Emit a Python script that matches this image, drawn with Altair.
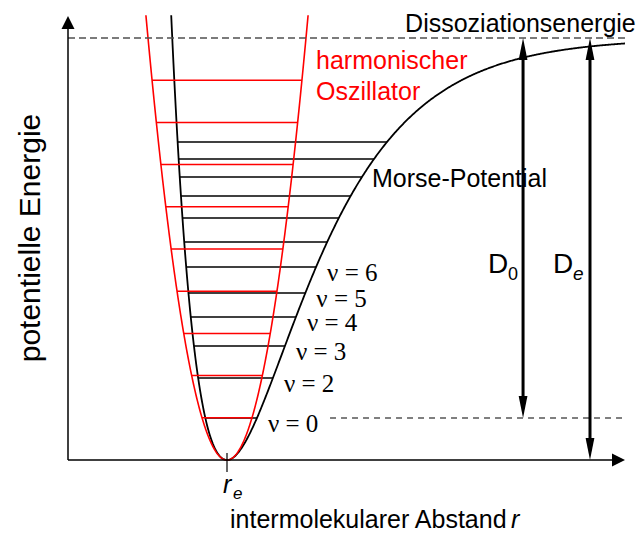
import altair as alt
import numpy as np
import pandas as pd

# ---- Morse potential in reduced units (energy in D_e, distance in r_e) ----
DE = 1.0          # dissociation energy D_e
RE = 1.0          # equilibrium distance r_e
A = 2.013         # Morse range parameter
K = DE * A ** 2   # force constant of the harmonic approximation
E_TOP = 1.054     # energy at which both wells are cut off
R_END = 3.503     # end of the r axis
E_AXIS_TOP = 1.052

# vibrational levels of the Morse oscillator (units of D_e)
morse_levels = [0.0995, 0.1943, 0.2701, 0.3389, 0.3957, 0.4573,
                0.5166, 0.5735, 0.6256, 0.6706, 0.7133, 0.7536]
# levels of the harmonic oscillator
harmonic_levels = [0.10, 0.20, 0.30, 0.40, 0.50, 0.60, 0.70, 0.80, 0.90]
# quantum-number labels for the lowest Morse levels
level_labels = ["ν = 0", "ν = 2", "ν = 3", "ν = 4", "ν = 5", "ν = 6"]

E0 = morse_levels[0]          # zero-point level
R_D0 = 2.862                  # position of the D0 arrow
R_DE = 3.283                  # position of the De arrow

# ---- canvas / scales ----
W, H = 637, 537
PX_R = 159.0      # pixels per unit of r
PX_E = 422.0      # pixels per unit of energy
X0, Y0 = 68.0, 460.0  # pixel position of the origin

xs = alt.Scale(domain=[-X0 / PX_R, (W - X0) / PX_R], nice=False, zero=False)
ys = alt.Scale(domain=[-(H - Y0) / PX_E, Y0 / PX_E], nice=False, zero=False)

SANS = "Liberation Sans"
SERIF = "Liberation Serif"


def X(f="r"):
    return alt.X(f"{f}:Q", scale=xs, axis=None)


def Y(f="E"):
    return alt.Y(f"{f}:Q", scale=ys, axis=None)


def morse(r):
    return DE * (1 - np.exp(-A * (r - RE))) ** 2


def morse_left(e):
    return RE - np.log(1 + np.sqrt(e / DE)) / A


def morse_right(e):
    return RE - np.log(1 - np.sqrt(e / DE)) / A


# ---- curves ----
r_m = np.linspace(morse_left(E_TOP), R_END, 600)
morse_df = pd.DataFrame({"r": r_m, "E": morse(r_m)})

half = np.sqrt(E_TOP / K)
r_h = np.linspace(RE - half, RE + half, 300)
harm_df = pd.DataFrame({"r": r_h, "E": K * (r_h - RE) ** 2})

morse_lv = pd.DataFrame({"E": morse_levels})
morse_lv["r1"] = morse_left(morse_lv["E"])
morse_lv["r2"] = morse_right(morse_lv["E"])

harm_lv = pd.DataFrame({"E": harmonic_levels})
harm_lv["r1"] = RE - np.sqrt(harm_lv["E"] / K)
harm_lv["r2"] = RE + np.sqrt(harm_lv["E"] / K)

lab_df = pd.DataFrame({"label": level_labels,
                       "E": morse_levels[:len(level_labels)]})
lab_df["r"] = morse_right(lab_df["E"])

layers = []

# Morse level lines and curve
layers.append(alt.Chart(morse_lv).mark_rule(color="black", strokeWidth=1.5)
              .encode(x=X("r1"), x2="r2", y=Y()))
layers.append(alt.Chart(morse_df).mark_line(color="black", strokeWidth=1.8)
              .encode(x=X(), y=Y()))
# harmonic oscillator levels and parabola
layers.append(alt.Chart(harm_lv).mark_rule(color="#ff0000", strokeWidth=1.5)
              .encode(x=X("r1"), x2="r2", y=Y()))
layers.append(alt.Chart(harm_df).mark_line(color="#ff0000", strokeWidth=1.6)
              .encode(x=X(), y=Y()))

# dashed reference lines: dissociation limit and zero-point level
layers.append(alt.Chart(pd.DataFrame({"r1": [0.0], "r2": [R_END], "E": [DE]}))
              .mark_rule(color="#505050", strokeWidth=1.3, strokeDash=[7, 4])
              .encode(x=X("r1"), x2="r2", y=Y()))
layers.append(alt.Chart(pd.DataFrame({"r1": [1.648], "r2": [R_END], "E": [E0]}))
              .mark_rule(color="black", strokeWidth=1.2, strokeDash=[6, 5])
              .encode(x=X("r1"), x2="r2", y=Y()))

# axes
AX_HEAD = 13.0
axes_df = pd.DataFrame({
    "r1": [0.0, 0.0], "r2": [R_END - AX_HEAD / PX_R * 0.9, 0.0],
    "E1": [0.0, 0.0], "E2": [0.0, E_AXIS_TOP - AX_HEAD / PX_E * 0.9]})
layers.append(alt.Chart(axes_df).mark_rule(color="black", strokeWidth=1.5)
              .encode(x=X("r1"), x2="r2", y=Y("E1"), y2="E2"))
# tick at r_e
tick_df = pd.DataFrame({"r": [RE], "E1": [7 / PX_E], "E2": [-12 / PX_E]})
layers.append(alt.Chart(tick_df).mark_rule(color="black", strokeWidth=1.2)
              .encode(x=X(), y=Y("E1"), y2="E2"))

# axis arrowheads (tip at the data point)
head_up = "M0,0L0.5,1L-0.5,1Z"
head_right = "M0,0L-1,0.5L-1,-0.5Z"
layers.append(alt.Chart(pd.DataFrame({"r": [0.0], "E": [E_AXIS_TOP]}))
              .mark_point(shape=head_up, size=(2 * AX_HEAD) ** 2, filled=True,
                          color="black", opacity=1, strokeWidth=0)
              .encode(x=X(), y=Y()))
layers.append(alt.Chart(pd.DataFrame({"r": [R_END], "E": [0.0]}))
              .mark_point(shape=head_right, size=(2 * AX_HEAD) ** 2, filled=True,
                          color="black", opacity=1, strokeWidth=0)
              .encode(x=X(), y=Y()))

# D0 and De double arrows
HEAD = 22.0
shaft_df = pd.DataFrame({
    "r": [R_D0, R_DE],
    "E1": [E0 + HEAD / PX_E * 0.8, 0.0 + HEAD / PX_E * 0.8],
    "E2": [DE - HEAD / PX_E * 0.8, DE - HEAD / PX_E * 0.8]})
layers.append(alt.Chart(shaft_df).mark_rule(color="black", strokeWidth=3)
              .encode(x=X(), y=Y("E1"), y2="E2"))
arrow_up = "M0,0L0.2,1L-0.2,1Z"
arrow_down = "M0,0L0.2,-1L-0.2,-1Z"
layers.append(alt.Chart(pd.DataFrame({"r": [R_D0, R_DE], "E": [DE, DE]}))
              .mark_point(shape=arrow_up, size=(2 * HEAD) ** 2, filled=True,
                          color="black", opacity=1, strokeWidth=0)
              .encode(x=X(), y=Y()))
layers.append(alt.Chart(pd.DataFrame({"r": [R_D0, R_DE], "E": [E0, 0.0]}))
              .mark_point(shape=arrow_down, size=(2 * HEAD) ** 2, filled=True,
                          color="black", opacity=1, strokeWidth=0)
              .encode(x=X(), y=Y()))


def text(t, r, e, **kw):
    kw.setdefault("font", SANS)
    kw.setdefault("fontSize", 25)
    kw.setdefault("align", "left")
    kw.setdefault("baseline", "alphabetic")
    kw.setdefault("color", "black")
    return (alt.Chart(pd.DataFrame({"r": [r], "E": [e]}))
            .mark_text(text=t, **kw).encode(x=X(), y=Y()))


# level labels
layers.append(alt.Chart(lab_df).mark_text(
    font=SERIF, fontSize=25, align="left", baseline="alphabetic",
    dx=11, dy=14, color="black")
    .encode(x=X(), y=Y(), text="label:N"))

# annotations
layers.append(text("Dissoziationsenergie", 2.12, DE, dy=-6))
layers.append(text("harmonischer", 1.56, 0.9265, color="#ff0000"))
layers.append(text("Oszillator", 1.56, 0.8531, color="#ff0000"))
layers.append(text("Morse-Potential", 1.912, 0.6469))
layers.append(text("D", R_D0, 0.4431, dx=-35, fontSize=28))
layers.append(text("0", R_D0, 0.4431, dx=-15, dy=7, fontSize=18))
layers.append(text("D", R_DE, 0.4431, dx=-37, fontSize=28))
layers.append(text("e", R_DE, 0.4431, dx=-17, dy=7, fontSize=19,
                   fontStyle="italic"))
layers.append(text("r", RE, 0.0, dx=-4, dy=33, fontSize=25,
                   fontStyle="italic"))
layers.append(text("e", RE, 0.0, dx=6, dy=39, fontSize=17,
                   fontStyle="italic"))
layers.append(text("intermolekularer Abstand ", 1.019, -0.162))
layers.append(text("r", 2.786, -0.162, fontStyle="italic"))
layers.append(text("potentielle Energie", -0.2327, 0.526, angle=270,
                   align="center", baseline="middle", fontSize=30))

chart = (alt.layer(*layers)
         .properties(width=W, height=H, padding=0,
                     autosize=alt.AutoSizeParams(type="none"),
                     background="white")
         .configure_view(stroke=None))

chart.save("out.html", embed_options={"renderer": "svg", "actions": False})
